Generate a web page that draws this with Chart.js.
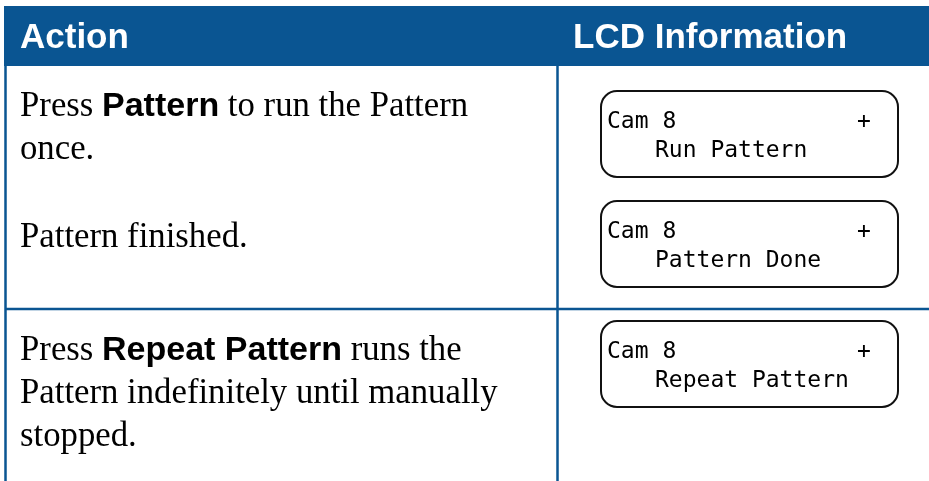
<!DOCTYPE html>
<html>
<head>
<meta charset="utf-8">
<script src="https://cdn.jsdelivr.net/npm/chart.js@4/dist/chart.umd.min.js"></script>
<style>
  html, body { margin: 0; padding: 0; background: #ffffff; }
  #wrap { width: 929px; height: 481px; }
</style>
</head>
<body>
<div id="wrap"><canvas id="tableChart" width="929" height="481"></canvas></div>
<script>
'use strict'

// table content
var headers = ['Action', 'LCD Information'];
// ** marks the bold button names
var actionText = [
    ['Press **Pattern** to run the Pattern', 'once.'],
    ['Pattern finished.'],
    ['Press **Repeat Pattern** runs the', 'Pattern indefinitely until manually', 'stopped.']
];
var lcdTop = ['Cam 8', 'Cam 8', 'Cam 8'];
var lcdMark = ['+', '+', '+'];
var lcdBottom = ['Run Pattern', 'Pattern Done', 'Repeat Pattern'];

// layout
var blue = '#0a5592';
var headTop = 6, headBottom = 66, colSplit = 557, rowSplit = 309;
var textX = 20, lineGap = 43;
var textBase = [116, 247, 360];
var serifSqueeze = 0.965;
var boxLeft = 601, boxRight = 898, boxH = 86, boxTop = [91, 201, 321];

// mixed serif / bold sans line, serif parts a bit narrower like the print
function drawRich(ctx, line, x, y) {
    var parts = line.split('**');
    for (var i = 0; i < parts.length; i++) {
        var bold = (i % 2 == 1);
        var sx = bold ? 1 : serifSqueeze;
        ctx.font = bold ? 'bold 34px "Liberation Sans", Arial, sans-serif' : '36px "Liberation Serif", "Times New Roman", serif';
        ctx.save();
        ctx.translate(x, y);
        ctx.scale(sx, 1);
        ctx.fillText(parts[i], 0, 0);
        ctx.restore();
        x += ctx.measureText(parts[i]).width * sx;
    }
}

function roundBox(ctx, x, y, w, h, r) {
    ctx.beginPath();
    ctx.moveTo(x + r, y);
    ctx.lineTo(x + w - r, y);
    ctx.arcTo(x + w, y, x + w, y + r, r);
    ctx.lineTo(x + w, y + h - r);
    ctx.arcTo(x + w, y + h, x + w - r, y + h, r);
    ctx.lineTo(x + r, y + h);
    ctx.arcTo(x, y + h, x, y + h - r, r);
    ctx.lineTo(x, y + r);
    ctx.arcTo(x, y, x + r, y, r);
    ctx.closePath();
    ctx.stroke();
}

var tablePlugin = {
    id: 'tablePlugin',
    afterDraw: function (chart) {
        var ctx = chart.ctx;
        var W = chart.width, H = chart.height;
        ctx.save();

        // header band
        ctx.fillStyle = blue;
        ctx.fillRect(4, headTop, W - 4, headBottom - headTop);
        ctx.fillStyle = '#ffffff';
        ctx.textBaseline = 'alphabetic';
        ctx.font = 'bold 35px "Liberation Sans", Arial, sans-serif';
        ctx.fillText(headers[0], 20, 48);
        ctx.fillText(headers[1], 573, 48);

        // grid lines
        ctx.strokeStyle = blue;
        ctx.lineWidth = 2.5;
        ctx.beginPath();
        ctx.moveTo(5.5, headBottom); ctx.lineTo(5.5, H);
        ctx.moveTo(colSplit + 0.5, headBottom); ctx.lineTo(colSplit + 0.5, H);
        ctx.moveTo(5.5, rowSplit); ctx.lineTo(W, rowSplit);
        ctx.stroke();

        // action texts
        ctx.fillStyle = '#000000';
        for (var i = 0; i < actionText.length; i++) {
            for (var j = 0; j < actionText[i].length; j++) {
                drawRich(ctx, actionText[i][j], textX, textBase[i] + j * lineGap);
            }
        }

        // LCD boxes
        ctx.strokeStyle = '#111111';
        ctx.lineWidth = 2;
        ctx.font = '23px "DejaVu Sans Mono", monospace';
        for (var k = 0; k < lcdTop.length; k++) {
            roundBox(ctx, boxLeft, boxTop[k], boxRight - boxLeft, boxH, 16);
            ctx.fillText(lcdTop[k], 607, boxTop[k] + 37);
            ctx.fillText(lcdMark[k], 857, boxTop[k] + 37);
            ctx.fillText(lcdBottom[k], 655, boxTop[k] + 66);
        }
        ctx.restore();
    }
};

window.onload = function () {
    new Chart(document.getElementById('tableChart'), {
        type: 'bar',
        data: { labels: [], datasets: [] },
        options: {
            responsive: false,
            animation: false,
            devicePixelRatio: 1,
            plugins: { legend: { display: false }, tooltip: { enabled: false } },
            scales: { x: { display: false }, y: { display: false } }
        },
        plugins: [tablePlugin]
    });
};
</script>
</body>
</html>
